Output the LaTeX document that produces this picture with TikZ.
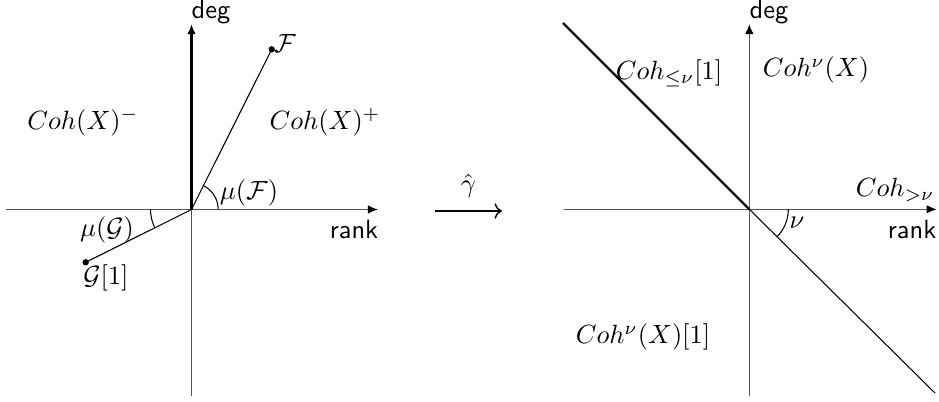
\documentclass[tikz,border=0pt]{standalone}
\usepackage{amsmath,amssymb}
\usepackage{tikz}
\usetikzlibrary{arrows.meta,positioning,calc}
\definecolor{axisgrey}{RGB}{85,85,85}
\tikzset{
    axisline/.style={draw=axisgrey, line width=0.5pt},
    axisarr/.style={axisline, -{Latex[length=3.8pt,width=3.2pt,black]}},
    rayline/.style={draw=black, line width=0.4pt},
    boldray/.style={draw=black, line width=0.85pt},
    pt/.style={circle, fill=black, inner sep=0pt, minimum size=2.4pt},
    axlabel/.style={font=\sffamily, inner sep=1pt},
    region/.style={inner sep=1pt},
}
\begin{document}
\begin{tikzpicture}[x=0.3788pt, y=0.3788pt]
    \useasboundingbox (0,0) rectangle (939,-401);

    % left picture
    \coordinate (oL) at (191.5,-209.5);
    \coordinate (wL) at (6,-209.5);
    \coordinate (eL) at (378,-209.5);
    \coordinate (sL) at (191.5,-396);
    \coordinate (nL) at (191.5,-24);
    \node[pt] (F) at (271.7,-49.3) {};
    \node[pt] (G) at (85.7,-262.3) {};

    \draw[axisarr] (wL) -- (eL);
    \draw[axisline] (sL) -- (oL);
    \draw[boldray, -{Latex[length=3.8pt,width=3.2pt]}] (oL) -- (nL);
    \draw[rayline] (oL) -- (F.center);
    \draw[rayline] (oL) -- (G.center);
    \draw[rayline] ($(oL)+(26.7,0)$) arc (0:63.4:26.7);
    \draw[rayline] ($(oL)+(-41,0)$) arc (180:206.6:41);

    \node[axlabel] (degL) at (211,-12) {deg};
    \node[axlabel] (rankL) at (354,-229) {rank};
    \node[region] (cohM) at (83,-122) {$Coh(X)^{-}$};
    \node[region] (cohP) at (325,-122) {$Coh(X)^{+}$};
    \node[region] (muF) at (249,-193) {$\mu(\mathcal{F})$};
    \node[region] (muG) at (107,-230) {$\mu(\mathcal{G})$};
    \node[region] (Flab) at (285,-43) {$\mathcal{F}$};
    \node[region] (Glab) at (106,-278) {$\mathcal{G}[1]$};

    % map between the two
    \coordinate (mapA) at (435,-211);
    \coordinate (mapB) at (502,-211);
    \draw[line width=0.55pt, ->] (mapA) -- node[above=1.5pt] (gam) {$\hat{\gamma}$} (mapB);

    % right picture
    \coordinate (oR) at (749.3,-209.3);
    \coordinate (wR) at (564,-209.3);
    \coordinate (eR) at (936.7,-209.3);
    \coordinate (sR) at (749.3,-396);
    \coordinate (nR) at (749.3,-24);
    \coordinate (tlR) at (563,-23);
    \coordinate (brR) at (935,-393);

    \draw[axisarr] (wR) -- (eR);
    \draw[axisarr] (sR) -- (nR);
    \draw[boldray] (tlR) -- (oR);
    \draw[rayline] (oR) -- (brR);
    \draw[rayline] ($(oR)+(39,0)$) arc (0:-45:39);

    \node[axlabel] (degR) at (769,-12) {deg};
    \node[axlabel] (rankR) at (912,-229) {rank};
    \node[region] (cohLe) at (669,-73) {$Coh_{\leq\nu}[1]$};
    \node[region] (cohNu) at (816,-70) {$Coh^{\nu}(X)$};
    \node[region] (cohGt) at (895,-190) {$Coh_{>\nu}$};
    \node[region] (nuLab) at (797,-223) {$\nu$};
    \node[region] (cohNuS) at (643,-337) {$Coh^{\nu}(X)[1]$};
\end{tikzpicture}
\end{document}
